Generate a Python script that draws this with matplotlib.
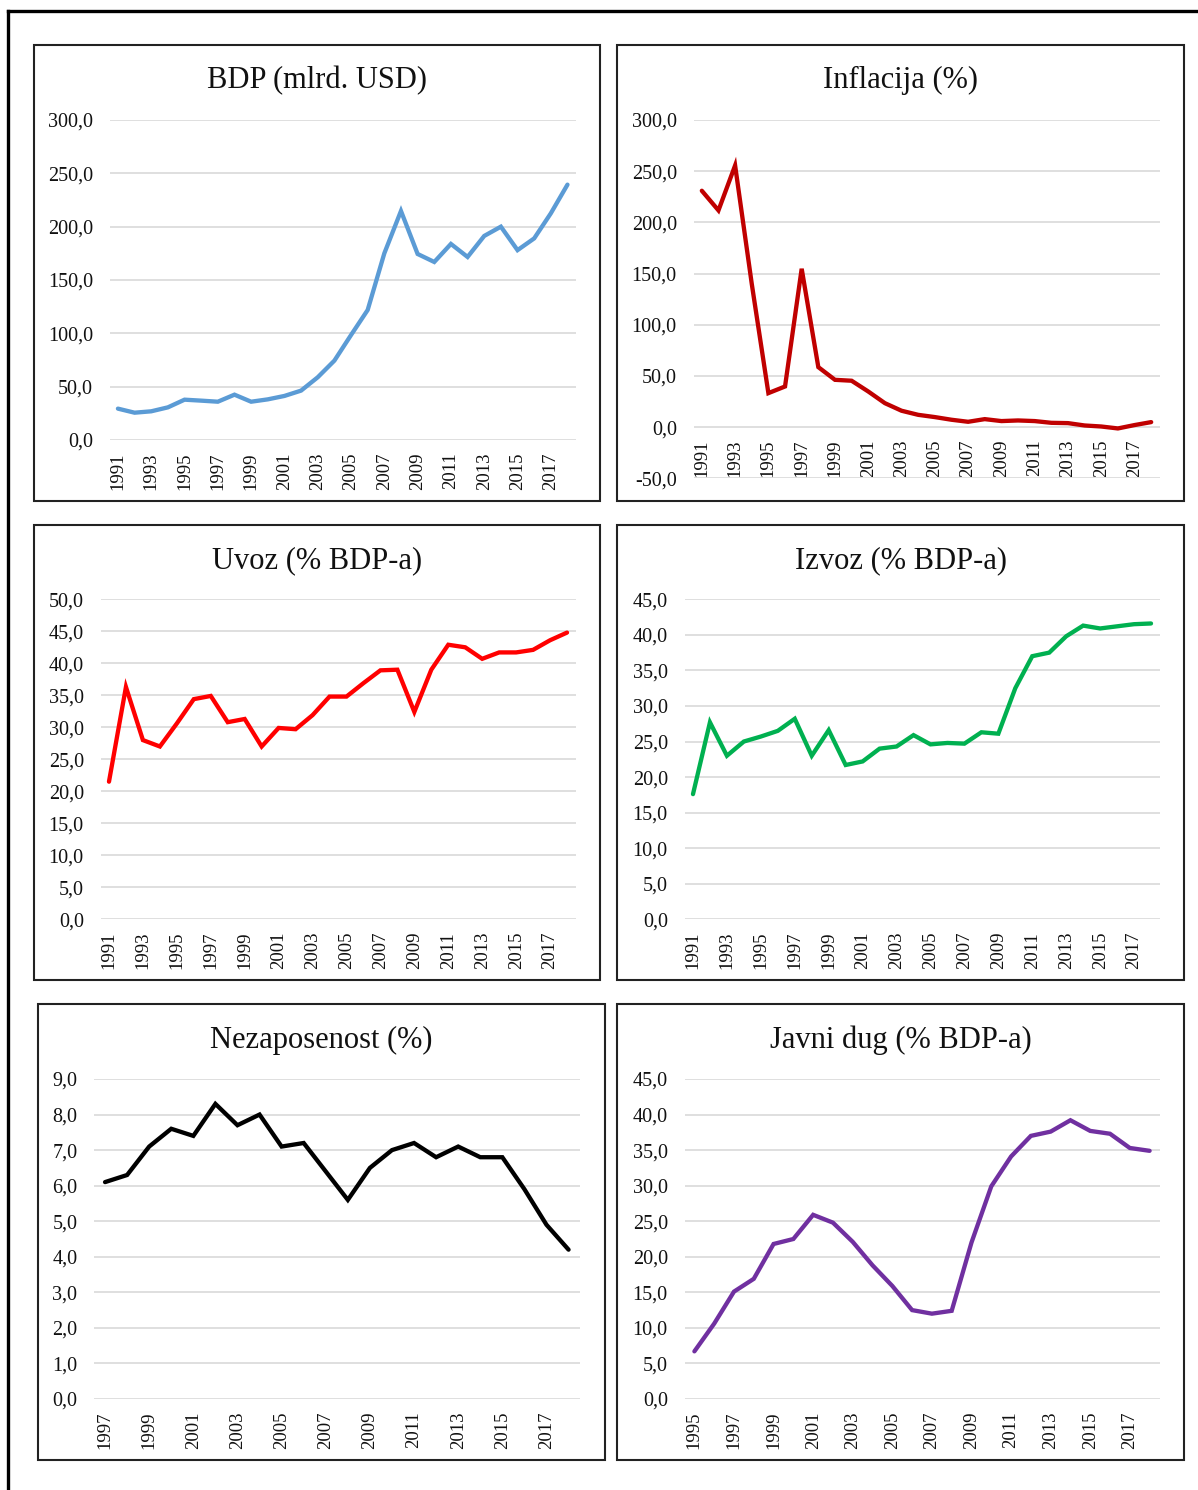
import matplotlib.pyplot as plt
from matplotlib.patches import Rectangle
from matplotlib.lines import Line2D

plt.rcParams['font.family'] = ['Liberation Serif', 'DejaVu Serif']

# --- data ---
years_91 = list(range(1991, 2019))
years_97 = list(range(1997, 2019))
years_95 = list(range(1995, 2019))

bdp = [29.4, 25.6, 26.9, 30.6, 37.8, 36.9, 35.9, 42.5, 35.9, 38.1, 41.3, 46.3, 58.8, 74.4,
       98.4, 121.9, 175.0, 214.7, 174.4, 166.9, 183.8, 171.6, 191.3, 200.0, 178.0, 189.0,
       212.5, 239.4]
inflacija = [230.9, 211.7, 255.6, 140.0, 33.2, 39.7, 154.7, 58.6, 46.2, 45.3, 34.8, 23.4,
             16.0, 12.0, 9.8, 7.2, 5.2, 7.8, 5.9, 6.5, 5.9, 4.2, 3.9, 1.6, 0.6, -1.3, 2.0, 4.9]
uvoz = [21.5, 36.3, 28.0, 27.0, 30.6, 34.4, 34.9, 30.8, 31.3, 27.0, 29.9, 29.7, 31.9, 34.8,
        34.8, 36.9, 38.9, 39.0, 32.4, 39.0, 42.9, 42.5, 40.7, 41.7, 41.7, 42.1, 43.6, 44.8]
izvoz = [17.6, 27.7, 23.0, 25.0, 25.7, 26.5, 28.2, 23.0, 26.6, 21.7, 22.2, 24.0, 24.3, 25.9,
         24.6, 24.8, 24.7, 26.3, 26.1, 32.5, 37.0, 37.5, 39.8, 41.3, 40.9, 41.2, 41.5, 41.6]
nezaposenost = [6.1, 6.3, 7.1, 7.6, 7.4, 8.3, 7.7, 8.0, 7.1, 7.2, 6.4, 5.6, 6.5, 7.0, 7.2,
                6.8, 7.1, 6.8, 6.8, 5.9, 4.9, 4.2]
javni_dug = [6.7, 10.6, 15.1, 16.9, 21.8, 22.5, 25.9, 24.8, 22.1, 18.8, 15.9, 12.5, 12.0,
             12.4, 22.0, 29.9, 34.1, 37.0, 37.6, 39.2, 37.7, 37.3, 35.3, 34.9]

W, H = 1198, 1490
fig = plt.figure(figsize=(W / 100, H / 100), dpi=100)


def px_rect(left, right, top, bottom):
    return [left / W, 1 - bottom / H, (right - left) / W, (bottom - top) / H]


def panel(box, plot, title, years, values, color, ylim, step):
    # outer box of each small chart
    bl, br, bt, bb = box
    fig.patches.append(Rectangle((bl / W, 1 - bb / H), (br - bl) / W, (bb - bt) / H,
                                 transform=fig.transFigure, fill=False,
                                 edgecolor='#222222', linewidth=1.5))
    fig.text((bl + br) / 2 / W, 1 - (bt + 36) / H, title, ha='center', va='center',
             fontsize=22, color='#111111')

    ax = fig.add_axes(px_rect(*plot))
    ax.plot(years, values, color=color, lw=3.1, solid_joinstyle='miter', solid_capstyle='round')
    ax.set_xlim(years[0] - 0.5, years[-1] + 0.5)
    ax.set_ylim(*ylim)

    # category axis crosses at zero (matters for the inflation chart)
    ax.spines['bottom'].set_position(('data', 0))
    for s in ax.spines.values():
        s.set_visible(False)

    yt = [ylim[0] + i * step for i in range(int(round((ylim[1] - ylim[0]) / step)) + 1)]
    ax.set_yticks(yt)
    ax.set_yticklabels([f'{v:.1f}'.replace('.', ',') for v in yt])
    ax.grid(axis='y', color='#d9d9d9', lw=1.2)
    ax.set_axisbelow(True)

    ax.set_xticks(years[::2])
    ax.set_xticklabels([str(y) for y in years[::2]])
    ax.tick_params(axis='both', length=0, colors='#111111')
    ax.tick_params(axis='x', pad=9, labelrotation=90, labelsize=13.5)
    ax.tick_params(axis='y', pad=12, labelsize=14.5)
    return ax


panel((33.5, 599.7, 44.7, 500.7), (109.6, 575.8, 120, 440), 'BDP (mlrd. USD)',
      years_91, bdp, '#5b9bd5', (0, 300), 50)
panel((617.3, 1184, 44.7, 500.7), (693.5, 1159.5, 120, 478.3), 'Inflacija (%)',
      years_91, inflacija, '#c00000', (-50, 300), 50)
panel((33.5, 599.7, 524.7, 980.3), (100.5, 575.5, 599.3, 919.3), 'Uvoz (% BDP-a)',
      years_91, uvoz, '#ff0000', (0, 50), 5)
panel((617.3, 1184, 524.7, 980.3), (684.5, 1159.5, 599.3, 919.3), 'Izvoz (% BDP-a)',
      years_91, izvoz, '#00b050', (0, 45), 5)
panel((37.7, 604.7, 1004.3, 1460.3), (94, 579.6, 1079, 1399), 'Nezaposenost (%)',
      years_97, nezaposenost, '#000000', (0, 9), 1)
panel((617.3, 1184, 1004.3, 1460.3), (684.5, 1159.5, 1079, 1399), 'Javni dug (% BDP-a)',
      years_95, javni_dug, '#7030a0', (0, 45), 5)

# outer frame: only top and left edges visible
fig.add_artist(Line2D([8 / W, 1.0], [1 - 10.5 / H, 1 - 10.5 / H], transform=fig.transFigure,
                      color='black', lw=2.4))
fig.add_artist(Line2D([8 / W, 8 / W], [1 - 10.5 / H, 0], transform=fig.transFigure,
                      color='black', lw=2.4))

fig.savefig('out.png', dpi=100)
